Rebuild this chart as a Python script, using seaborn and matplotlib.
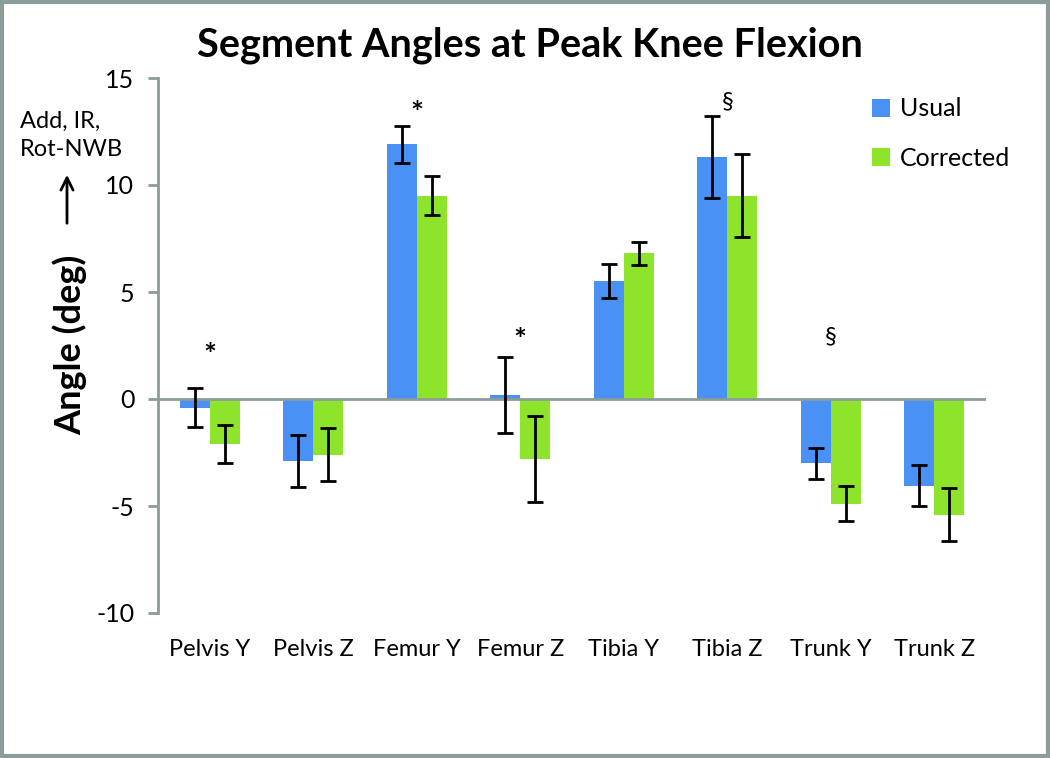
import matplotlib
matplotlib.use("Agg")
import matplotlib.pyplot as plt
from matplotlib.patches import Rectangle
import seaborn as sns
import pandas as pd

segments = ["Pelvis Y", "Pelvis Z", "Femur Y", "Femur Z",
            "Tibia Y", "Tibia Z", "Trunk Y", "Trunk Z"]
usual = [-0.4, -2.9, 11.9, 0.2, 5.5, 11.3, -3.0, -4.05]
usual_err = [0.9, 1.23, 0.87, 1.77, 0.8, 1.93, 0.73, 0.97]
corrected = [-2.1, -2.6, 9.5, -2.8, 6.8, 9.5, -4.9, -5.4]
corrected_err = [0.9, 1.24, 0.92, 2.0, 0.55, 1.93, 0.82, 1.24]
sig_marks = ["*", "", "*", "*", "", "§", "§", ""]
sig_y = [2.0, None, 13.3, 2.7, None, 13.9, 2.9, None]

colors = {"Usual": "#4a91f5", "Corrected": "#8ee32b"}
grey = "#8c9c9a"

df = pd.DataFrame({
    "Segment": segments * 2,
    "Angle": usual + corrected,
    "Condition": ["Usual"] * len(segments) + ["Corrected"] * len(segments),
})

sns.set_style("white")
plt.rcParams["font.family"] = ["Lato", "DejaVu Sans"]
plt.rcParams["axes.unicode_minus"] = False
plt.rcParams["text.color"] = "black"

fig = plt.figure(figsize=(10.5, 7.58), dpi=100)
ax = fig.add_axes([158 / 1050, 1 - 613 / 758, 828 / 1050, 535 / 758])

sns.barplot(data=df, x="Segment", y="Angle", hue="Condition", palette=colors,
            width=0.58, gap=0, errorbar=None, saturation=1, linewidth=0,
            legend=True, ax=ax)

# error bars at the centre of each bar
for cont, vals, errs in [(ax.containers[0], usual, usual_err),
                         (ax.containers[1], corrected, corrected_err)]:
    xs = [p.get_x() + p.get_width() / 2 for p in cont.patches]
    ax.errorbar(xs, vals, yerr=errs, fmt="none", ecolor="black",
                elinewidth=2, capsize=6, capthick=2, zorder=3)

for i, (m, y) in enumerate(zip(sig_marks, sig_y)):
    if m:
        if m == "*":
            ax.text(i, y, m, ha="center", va="center", fontsize=22, fontweight="bold")
        else:
            ax.text(i, y, m, ha="center", va="center", fontsize=17)

ax.set_ylim(-10, 15)
ax.set_xlim(-0.5, 7.5)
ax.set_yticks([-10, -5, 0, 5, 10, 15])
ax.axhline(0, color=grey, lw=2, zorder=2)

for s in ["top", "right", "bottom"]:
    ax.spines[s].set_visible(False)
ax.spines["left"].set_color(grey)
ax.spines["left"].set_linewidth(2)
ax.tick_params(axis="y", length=7, width=2, color=grey, labelcolor="black",
               labelsize=18, pad=10, left=True)
ax.tick_params(axis="x", length=0, labelcolor="black", labelsize=17, pad=19)
ax.set_xlabel("")
ax.set_ylabel("")

fig.text(70 / 1050, 1 - 345 / 758, "Angle (deg)", rotation=90, ha="center", va="center",
         fontsize=26, fontweight="bold")
fig.suptitle("Segment Angles at Peak Knee Flexion", x=530 / 1050, y=1 - 45 / 758,
             va="center", fontsize=28.5, fontweight="bold", color="black")

fig.text(20 / 1050, 1 - 121 / 758, "Add, IR,", ha="left", va="center", fontsize=17)
fig.text(20 / 1050, 1 - 150 / 758, "Rot-NWB", ha="left", va="center", fontsize=17)
ax.annotate("", xy=(67 / 1050, 1 - 172 / 758), xytext=(67 / 1050, 1 - 226 / 758),
            xycoords="figure fraction", textcoords="figure fraction",
            arrowprops=dict(arrowstyle="->", color="black", lw=2, mutation_scale=22))

leg = ax.legend(loc="upper left", bbox_to_anchor=(849 / 1050, 1 - 75 / 758),
                bbox_transform=fig.transFigure, frameon=False, fontsize=18,
                handlelength=0.75, handleheight=0.75, handletextpad=0.4,
                labelspacing=1.05, title=None, labelcolor="black")

fig.patches.append(Rectangle((0.0015, 0.002), 0.997, 0.996, transform=fig.transFigure,
                             fill=False, edgecolor=grey, lw=3))

fig.savefig("out.png", dpi=100)
